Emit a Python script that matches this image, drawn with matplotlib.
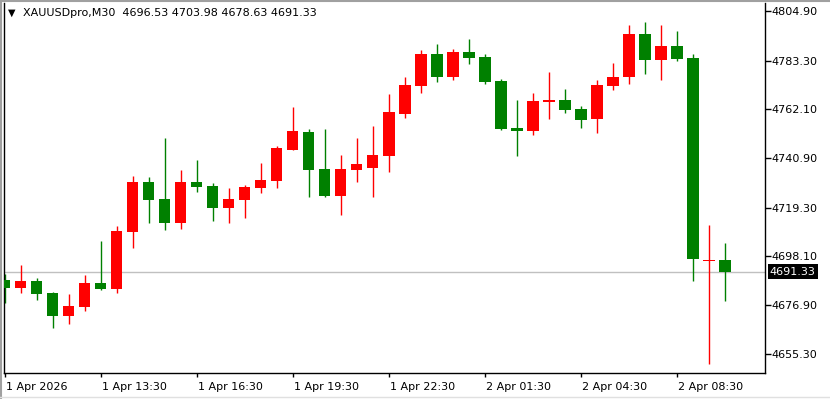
import matplotlib
matplotlib.use('Agg')
import matplotlib.pyplot as plt
from matplotlib.lines import Line2D

plt.rcParams['font.family'] = ['DejaVu Sans']

# ---- data (XAUUSDpro M30) ----
opens = [4687.71, 4684.22, 4687.27, 4682.04, 4672.01, 4675.93, 4686.40, 4683.78,
         4708.64, 4730.45, 4723.04, 4712.57, 4730.45, 4728.71, 4719.11, 4722.60,
         4727.83, 4731.02, 4744.54, 4752.26, 4736.12, 4724.48, 4735.82, 4736.69,
         4741.92, 4760.24, 4772.45, 4786.28, 4776.38, 4787.15, 4784.97, 4774.50,
         4754.00, 4752.83, 4765.47, 4766.21, 4762.29, 4758.06, 4772.45, 4776.38,
         4795.00, 4783.79, 4789.77, 4784.53, 4696.10, 4696.53]
highs = [4690.33, 4694.25, 4688.58, 4682.30, 4681.60, 4689.89, 4704.72, 4711.26,
         4733.07, 4732.63, 4749.64, 4735.68, 4740.05, 4730.01, 4727.83, 4729.14,
         4738.74, 4746.15, 4763.16, 4753.57, 4753.57, 4742.23, 4749.64, 4754.88,
         4768.83, 4776.25, 4788.02, 4790.64, 4788.46, 4792.82, 4786.28, 4775.37,
         4766.21, 4769.27, 4778.43, 4771.01, 4763.73, 4774.94, 4782.35, 4798.93,
         4800.23, 4798.93, 4796.31, 4786.28, 4711.83, 4703.98]
lows = [4677.81, 4682.17, 4678.98, 4666.77, 4668.52, 4674.32, 4683.35, 4682.04,
        4701.66, 4712.57, 4709.52, 4709.95, 4726.09, 4713.44, 4712.57, 4714.75,
        4725.65, 4727.97, 4744.41, 4724.04, 4724.04, 4716.19, 4730.58, 4724.04,
        4734.94, 4758.50, 4769.40, 4774.20, 4775.07, 4782.05, 4773.32, 4753.26,
        4741.92, 4751.08, 4758.06, 4760.68, 4754.13, 4751.95, 4770.71, 4773.32,
        4777.69, 4775.07, 4783.36, 4687.40, 4650.94, 4678.63]
closes = [4684.35, 4687.27, 4681.60, 4672.01, 4676.37, 4686.40, 4683.78, 4709.08,
          4730.45, 4722.60, 4712.57, 4730.45, 4728.27, 4719.11, 4723.04, 4728.27,
          4731.32, 4745.28, 4752.69, 4735.82, 4724.48, 4736.12, 4738.30, 4742.23,
          4760.98, 4772.76, 4786.28, 4776.38, 4787.15, 4784.66, 4774.20, 4753.70,
          4752.83, 4765.78, 4766.21, 4761.99, 4757.62, 4772.76, 4776.25, 4795.00,
          4783.79, 4789.77, 4784.23, 4697.00, 4696.45, 4691.33]

price_ticks = [4804.90, 4783.30, 4762.10, 4740.90, 4719.30, 4698.10, 4676.90, 4655.30]
time_idx = [0, 6, 12, 18, 24, 30, 36, 42]
time_labels = ['1 Apr 2026', '1 Apr 13:30', '1 Apr 16:30', '1 Apr 19:30',
               '1 Apr 22:30', '2 Apr 01:30', '2 Apr 04:30', '2 Apr 08:30']
symbol = 'XAUUSDpro,M30'

UP = '#ff0000'
DOWN = '#008000'

W, H = 830, 399
fig = plt.figure(figsize=(W / 100, H / 100), dpi=100, facecolor='white')
ax = fig.add_axes([4 / W, 1 - 372.7 / H, (765 - 4) / W, (372.7 - 2.5) / H])
ax.set_facecolor('white')

x = list(range(len(opens)))
cols = [UP if c >= o else DOWN for o, c in zip(opens, closes)]

# wicks
ax.vlines(x, lows, highs, colors=cols, linewidth=1.0, zorder=2)
# bodies
bottoms = [min(o, c) for o, c in zip(opens, closes)]
heights = [max(abs(c - o), 0.45) for o, c in zip(opens, closes)]
ax.bar(x, heights, bottom=bottoms, width=0.69, color=cols, linewidth=0, zorder=3)

# current price line
last = closes[-1]
ax.axhline(last, color='#c0c0c0', linewidth=1.0, zorder=1)

ax.set_xlim(-0.06, 47.5)
ax.set_ylim(4647.28, 4808.74)

# axes styling
for s in ['left', 'bottom', 'right']:
    ax.spines[s].set_color('black')
    ax.spines[s].set_linewidth(1.0)
ax.spines['top'].set_visible(False)

ax.yaxis.tick_right()
ax.set_yticks(price_ticks)
ax.set_yticklabels([f'{p:.2f}' for p in price_ticks])
ax.tick_params(axis='y', direction='out', length=4, width=1, pad=0.5,
               labelsize=8, colors='black')
ax.set_xticks(time_idx)
ax.set_xticklabels([])
ax.tick_params(axis='x', direction='out', length=3, width=1, colors='black')

for i, lab in zip(time_idx, time_labels):
    ax.annotate(lab, xy=(i, 0), xycoords=('data', 'axes fraction'),
                xytext=(1, -7), textcoords='offset points',
                ha='left', va='top', fontsize=8, color='black')

# last price tag
ax.annotate(f'{last:.2f}', xy=(1, last), xycoords=('axes fraction', 'data'),
            xytext=(3.5, 0), textcoords='offset points', ha='left', va='center',
            fontsize=8, color='white',
            bbox=dict(boxstyle='square,pad=0.2', facecolor='black', edgecolor='none'))

# header
fig.text(8 / W, 1 - 13 / H, '\u25bc', fontsize=7, ha='left', va='center', color='black')
fig.text(23 / W, 1 - 13 / H,
         f'{symbol}  {opens[-1]:.2f} {highs[-1]:.2f} {lows[-1]:.2f} {closes[-1]:.2f}',
         fontsize=8, ha='left', va='center', color='black')

# window border
fig.add_artist(Line2D([0, 1], [1 - 0.5 / H, 1 - 0.5 / H], color='#a0a0a0', linewidth=1.5))
fig.add_artist(Line2D([0.8 / W, 0.8 / W], [0, 1], color='#a0a0a0', linewidth=1.5))
fig.add_artist(Line2D([0, 1], [2.5 / H, 2.5 / H], color='#e0e0e0', linewidth=1.0))

plt.savefig('out.png', dpi=100, facecolor='white')
plt.close()
